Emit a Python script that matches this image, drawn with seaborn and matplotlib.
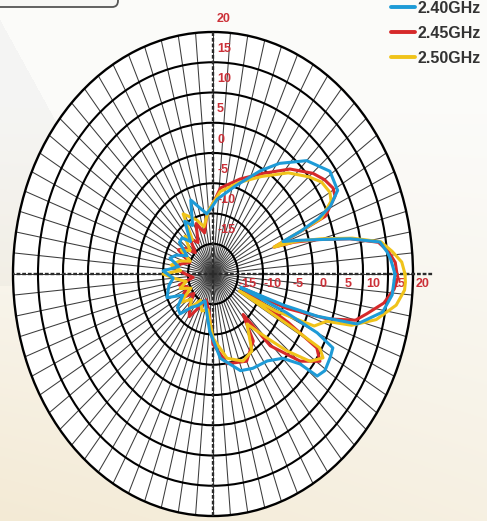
import numpy as np
import pandas as pd
import matplotlib
matplotlib.use("Agg")
import matplotlib.pyplot as plt
from matplotlib.lines import Line2D
from matplotlib.patches import FancyBboxPatch
import seaborn as sns

# gain readings (dB), angle in degrees counter-clockwise from east
blue_deg = [0, 4, 6, 9, 12, 15, 18, 21, 22, 23.5, 25.5, 29, 36, 45, 54, 61, 73, 86,
            97, 110, 117, 123, 130, 136, 142, 150, 157, 163, 170, 177, 185, 192,
            203, 210, 218, 225, 232, 240, 250, 266, 276, 289, 297, 307, 315, 319.5,
            321, 324.5, 329.5, 333, 335, 336.5, 338, 339, 340, 341.5, 344, 349.5, 354.5]
blue_db = [16.4, 15.6, 15.0, 13.8, 8.0, 2.0, -2.0, -5.0, -1.0, 3.0, 6.0, 8.5, 8.9, 6.5, 2.6, -0.5, -4.8, -7.6,
           -10.0, -7.0, -11.0, -9.6, -13.0, -11.4, -11.5, -14.0, -12.0, -11.0, -13.0, -10.0, -12.0, -11.0,
           -10.0, -13.0, -11.0, -10.7, -13.0, -14.0, -15.3, -10.5, -6.0, -3.1, -2.5, -2.0, -0.3, 2.9,
           6.8, 7.5, 7.2, 6.9, 3.0, -4.0, -14.0, -12.0, -5.0, 2.0, 10.0, 14.5, 16.0]

red_deg = [0, 3, 6, 9, 12, 15, 18, 20, 22, 23, 27.8, 30.6, 35, 39.8, 48.4, 59, 71, 84,
           92, 97, 104, 112, 120, 128, 135, 143, 150, 158, 165, 172, 180, 188,
           195, 203, 212, 220, 228, 236, 244, 252, 262, 270, 281, 295, 306, 312,
           314, 320.4, 326, 329.5, 332, 337, 339, 342, 345, 348, 352, 356, 359]
red_db = [16.8, 16.5, 15.3, 13.5, 8.0, 2.0, -3.0, -7.0, -0.5, 4.4, 7.6, 7.9, 7.2, 6.0, 3.2, -0.6, -3.4, -5.7,
          -9.0, -10.0, -13.0, -11.0, -14.0, -12.5, -15.0, -13.0, -12.0, -15.0, -13.5, -12.0, -14.5, -16.0,
          -13.0, -14.5, -12.5, -15.0, -13.0, -11.5, -14.0, -15.5, -14.0, -8.4, -4.9, -4.1, -6.3, -11.0,
          -3.5, 2.6, 5.8, 4.1, -3.0, -13.0, -4.0, 4.0, 9.5, 11.5, 14.5, 16.3, 17.0]

yellow_deg = [0, 3, 6, 9, 12, 15, 18, 20, 22, 23, 27, 30, 35, 40, 48, 59, 71, 84,
              95, 103, 110, 121, 126, 132, 140, 148, 155, 162, 170, 175, 180, 186,
              193, 200, 208, 216, 224, 231, 240, 250, 260, 270, 281.4, 292.6, 301.5, 309.4,
              315.6, 319.3, 323.4, 327.8, 330.2, 330.8, 332, 334, 337, 341, 343, 347, 352, 356, 358]
yellow_db = [18.4, 17.8, 16.0, 14.0, 8.5, 2.5, -2.5, -7.0, -1.0, 3.5, 6.5, 7.0, 6.5, 5.0, 2.5, -1.2, -4.0, -6.3,
             -9.5, -12.0, -10.5, -8.4, -13.0, -11.6, -14.0, -12.5, -15.0, -13.0, -11.5, -13.5, -10.0, -12.5,
             -14.5, -13.0, -15.0, -12.0, -14.0, -12.7, -15.0, -13.5, -14.0, -9.4, -5.8, -4.4, -5.1, -9.3,
             -4.9, -0.5, 4.2, 6.0, 4.6, -1.7, -14.0, -6.0, 2.0, 4.0, 9.0, 13.5, 17.0, 18.4, 18.5]

freq_labels = ["2.40GHz", "2.45GHz", "2.50GHz"]
freq_colors = ["#1e9bd7", "#d6292a", "#f0c31a"]
ring_values = [-15, -10, -5, 0, 5, 10, 15, 20]


def closed_trace(deg, db, label):
    # repeat the first reading so the pattern closes on itself
    deg = list(deg) + [deg[0] + 360]
    db = list(db) + [db[0]]
    return pd.DataFrame({"theta": np.deg2rad(deg), "gain": db, "freq": label})


df = pd.concat([
    closed_trace(blue_deg, blue_db, freq_labels[0]),
    closed_trace(red_deg, red_db, freq_labels[1]),
    closed_trace(yellow_deg, yellow_db, freq_labels[2]),
], ignore_index=True)

sns.set_theme(style="white")
plt.rcParams["font.family"] = ["Liberation Sans", "DejaVu Sans"]

W, H = 487, 521
fig = plt.figure(figsize=(W / 100, H / 100), dpi=100)

# soft paper-like backdrop
bg = fig.add_axes([0, 0, 1, 1], zorder=0)
yy, xx = np.mgrid[0:1:H * 1j, 0:1:W * 1j]
top = np.array([0.985, 0.985, 0.978])
bottom = np.array([0.955, 0.918, 0.835])
t = np.clip((yy - 0.2) / 0.8, 0, 1) ** 1.1 * (1 - 0.35 * xx)
img = top * (1 - t)[..., None] + bottom * t[..., None]
wedge = (xx * W < (yy * H - 20) * 0.55) & (yy < 0.55)
img[wedge] *= 0.975
bg.imshow(img, aspect="auto", extent=[0, 1, 0, 1], origin="upper")
bg.axis("off")

fig.patches.append(FancyBboxPatch(
    (-0.05, 1 - 7 / H), 118 / W + 0.05, 0.2,
    boxstyle="round,pad=0,rounding_size=0.012",
    transform=fig.transFigure, fc="#f7f7f5", ec="#555555", lw=1.3, zorder=1))

ax = fig.add_axes([13 / W, 5 / H, 400 / W, 484 / H], projection="polar", zorder=2)
ax.set_facecolor("white")

sns.lineplot(
    data=df, x="theta", y="gain", hue="freq",
    hue_order=[freq_labels[1], freq_labels[2], freq_labels[0]],
    palette=dict(zip(freq_labels, freq_colors)),
    sort=False, estimator=None, lw=2.2, legend=False, ax=ax, zorder=5,
)

ax.set_ylim(-20, 20)
ax.set_xticks(np.deg2rad(np.arange(0, 360, 5)))
ax.set_yticks(ring_values[:-1])
ax.set_xticklabels([])
ax.set_yticklabels([])
ax.xaxis.grid(True, color="#3c3c3c", lw=0.75)
ax.yaxis.grid(True, color="black", lw=1.5)
ax.spines["polar"].set_color("black")
ax.spines["polar"].set_linewidth(1.7)
ax.set_xlabel("")
ax.set_ylabel("")

# dashed main axes through the centre
for ang, reach in [(0, 24), (90, 20), (180, 20), (270, 20)]:
    ax.plot([np.deg2rad(ang)] * 2, [-20, reach], color="#2b2b2b", lw=1.7,
            ls=(0, (1.6, 0.8)), clip_on=False, zorder=3)

label_font = dict(color="#cc3038", fontsize=9, fontweight="bold",
                  family=["Liberation Sans Narrow", "Liberation Sans", "DejaVu Sans"])
for v in ring_values:
    ax.annotate(str(v), xy=(np.pi / 2, v + 2.2), xytext=(4, 0), textcoords="offset pixels",
                ha="left", va="center", annotation_clip=False, zorder=4, **label_font)
    ax.annotate(str(v), xy=(0, v + 2.0), xytext=(0, -10), textcoords="offset pixels",
                ha="center", va="center", annotation_clip=False, zorder=4, **label_font)

ax.set_aspect("auto")

handles = [Line2D([], [], color=c, lw=2.8) for c in freq_colors]
fig.legend(handles, freq_labels, loc="upper right", bbox_to_anchor=(481 / W, 1 - 1 / H),
           frameon=False, handlelength=1.5, handletextpad=0.15, labelspacing=0.62,
           borderaxespad=0, borderpad=0,
           prop=dict(size=11.5, weight="bold"), labelcolor="#333333")

fig.savefig("out.png", dpi=100)
